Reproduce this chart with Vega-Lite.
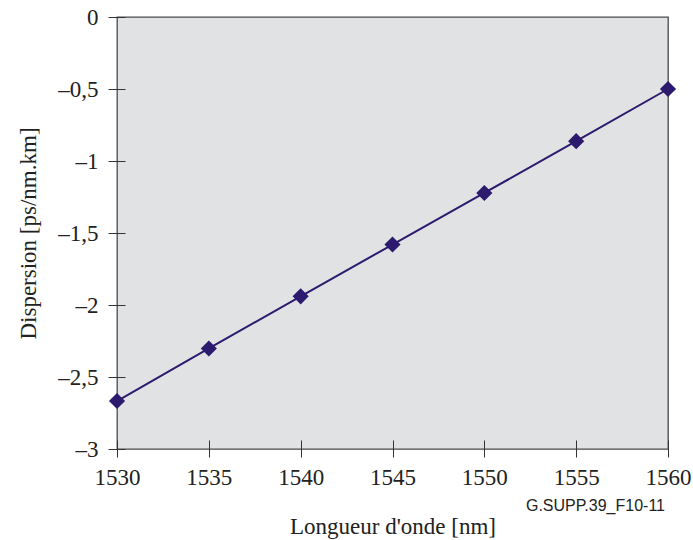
{
  "$schema": "https://vega.github.io/schema/vega-lite/v6.json",
  "width": 551,
  "height": 432,
  "autosize": {"type": "none"},
  "padding": {"left": 117, "top": 17, "right": 25, "bottom": 91},
  "background": "white",
  "config": {
    "view": {"fill": "#e1e2e4", "stroke": "#4a4a4a", "strokeWidth": 1.3},
    "font": "Liberation Serif"
  },
  "title": {
    "text": "G.SUPP.39_F10-11",
    "orient": "bottom",
    "anchor": "end",
    "frame": "group",
    "font": "Liberation Sans",
    "fontSize": 16,
    "fontWeight": "normal",
    "color": "#222",
    "offset": -40,
    "dx": -3
  },
  "data": {
    "values": [
      {"wavelength": 1530, "dispersion": -2.667},
      {"wavelength": 1535, "dispersion": -2.302},
      {"wavelength": 1540, "dispersion": -1.940},
      {"wavelength": 1545, "dispersion": -1.580},
      {"wavelength": 1550, "dispersion": -1.222},
      {"wavelength": 1555, "dispersion": -0.862},
      {"wavelength": 1560, "dispersion": -0.500}
    ]
  },
  "encoding": {
    "x": {
      "field": "wavelength",
      "type": "quantitative",
      "scale": {"domain": [1530, 1560], "nice": false, "zero": false},
      "axis": {
        "title": "Longueur d'onde [nm]",
        "values": [1530, 1535, 1540, 1545, 1550, 1555, 1560],
        "format": "d",
        "grid": false,
        "domain": false,
        "labelFlush": false,
        "offset": -9,
        "tickSize": 17,
        "tickColor": "#333",
        "tickWidth": 1,
        "labelFont": "Liberation Serif",
        "labelFontSize": 23,
        "labelColor": "#222",
        "labelPadding": 9,
        "titleFont": "Liberation Serif",
        "titleFontSize": 23,
        "titleFontWeight": "normal",
        "titleColor": "#222",
        "titlePadding": 26
      }
    },
    "y": {
      "field": "dispersion",
      "type": "quantitative",
      "scale": {"domain": [-3, 0], "nice": false},
      "axis": {
        "title": "Dispersion [ps/nm.km]",
        "values": [-3, -2.5, -2, -1.5, -1, -0.5, 0],
        "labelExpr": "replace(replace(format(datum.value, ''), '.', ','), '−', '–')",
        "grid": false,
        "domain": false,
        "labelFlush": false,
        "offset": -8,
        "tickSize": 17,
        "tickColor": "#333",
        "tickWidth": 1,
        "labelFont": "Liberation Serif",
        "labelFontSize": 23,
        "labelColor": "#222",
        "labelPadding": 10,
        "titleFont": "Liberation Serif",
        "titleFontSize": 23,
        "titleFontWeight": "normal",
        "titleColor": "#222",
        "titlePadding": 17
      }
    }
  },
  "layer": [
    {
      "mark": {"type": "line", "color": "#2c1a6e", "strokeWidth": 2}
    },
    {
      "mark": {"type": "point", "shape": "diamond", "filled": true, "size": 260, "color": "#2c1a6e", "opacity": 1}
    }
  ]
}
